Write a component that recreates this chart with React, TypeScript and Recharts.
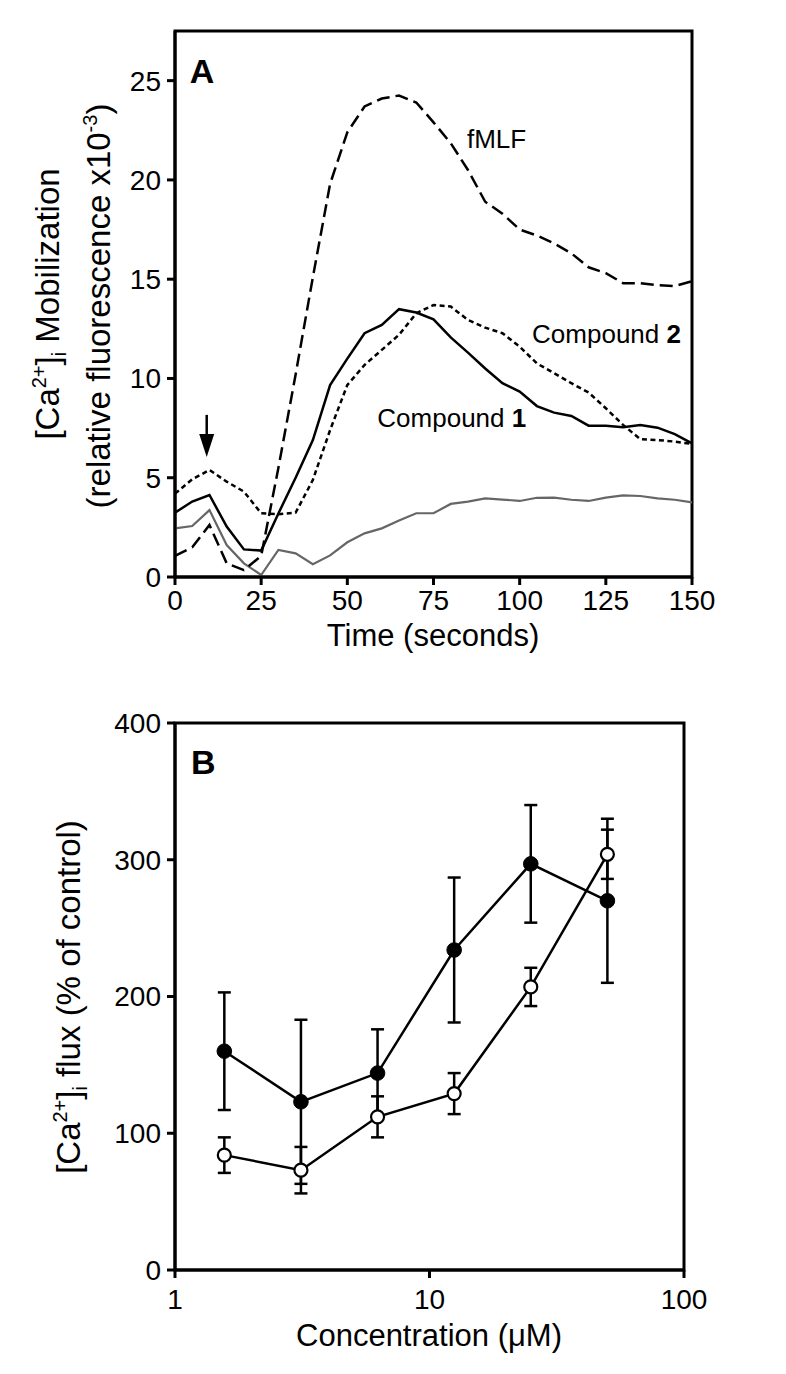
import React from 'react';
import {
  LineChart,
  ComposedChart,
  Line,
  XAxis,
  YAxis,
  ReferenceArea,
  ReferenceDot,
  ErrorBar
} from 'recharts';

const FONT = '"Liberation Sans", Arial, Helvetica, sans-serif';

// Panel A: calcium traces, sampled every 5 s
const time = [0, 5, 10, 15, 20, 25, 30, 35, 40, 45, 50, 55, 60, 65, 70, 75, 80, 85, 90, 95, 100, 105, 110, 115, 120, 125, 130, 135, 140, 145, 150];
const fmlf = [1.06, 1.5, 2.62, 0.69, 0.35, 1.06, 5.5, 10.2, 15.1, 19.8, 22.4, 23.7, 24.1, 24.25, 23.9, 22.9, 21.85, 20.5, 18.9, 18.3, 17.5, 17.2, 16.8, 16.3, 15.6, 15.3, 14.8, 14.8, 14.7, 14.65, 14.9];
const compound1 = [3.24, 3.8, 4.13, 2.54, 1.39, 1.33, 3.2, 5.0, 6.9, 9.67, 11.0, 12.28, 12.7, 13.49, 13.32, 12.98, 12.07, 11.3, 10.5, 9.76, 9.34, 8.61, 8.28, 8.11, 7.62, 7.62, 7.54, 7.66, 7.52, 7.2, 6.73];
const compound2 = [4.2, 4.92, 5.39, 4.8, 4.3, 3.21, 3.16, 3.24, 4.89, 7.4, 9.67, 10.68, 11.44, 12.2, 13.28, 13.7, 13.62, 12.95, 12.56, 12.28, 11.6, 10.76, 10.26, 9.76, 9.29, 8.5, 7.66, 6.94, 6.9, 6.82, 6.7];
const control = [2.45, 2.57, 3.37, 1.61, 0.69, 0.1, 1.36, 1.19, 0.64, 1.09, 1.75, 2.2, 2.45, 2.84, 3.21, 3.21, 3.68, 3.8, 3.96, 3.9, 3.83, 3.99, 4.0, 3.89, 3.83, 4.0, 4.11, 4.08, 3.96, 3.89, 3.76];
const xTicksA = [0, 25, 50, 75, 100, 125, 150];
const yTicksA = [0, 5, 10, 15, 20, 25];

// Panel B: dose response
const conc = [1.5625, 3.125, 6.25, 12.5, 25, 50];
const openMean = [84, 73, 112, 129, 207, 304];
const openErr = [13, 17, 15, 15, 14, 18];
const filledMean = [160, 123, 144, 234, 297, 270];
const filledErr = [43, 60, 32, 53, 43, 60];
const xTicksB = [1, 10, 100];
const yTicksB = [0, 100, 200, 300, 400];

const dataA = time.map((t, i) => ({
  t,
  fmlf: fmlf[i],
  c1: compound1[i],
  c2: compound2[i],
  ctrl: control[i]
}));
const openData = conc.map((c, i) => ({ c, y: openMean[i], err: openErr[i] }));
const filledData = conc.map((c, i) => ({ c, y: filledMean[i], err: filledErr[i] }));

const axisLine = { stroke: '#000', strokeWidth: 3 };
const tickLine = { stroke: '#000', strokeWidth: 3 };
const tickStyle = { fontSize: 28, fill: '#000', fontFamily: FONT };

const TimeTitle = () => (
  <text x={433} y={646} textAnchor="middle" fontSize={31} fontFamily={FONT} fill="#000">
    Time (seconds)
  </text>
);

const YTitleA = () => (
  <g fontFamily={FONT} fill="#000" fontSize={33}>
    <text x={59} y={304} transform="rotate(-90, 59, 304)" textAnchor="middle">
      [Ca<tspan dy={-13} fontSize={20}>2+</tspan>
      <tspan dy={13}>]</tspan>
      <tspan dy={7} fontSize={20}>i</tspan>
      <tspan dy={-7}> Mobilization</tspan>
    </text>
    <text x={110} y={306} transform="rotate(-90, 110, 306)" textAnchor="middle">
      (relative fluorescence x10<tspan dy={-13} fontSize={20}>-3</tspan>
      <tspan dy={13}>)</tspan>
    </text>
  </g>
);

const ConcTitle = () => (
  <text x={429} y={656} textAnchor="middle" fontSize={31} fontFamily={FONT} fill="#000">
    Concentration (μM)
  </text>
);

const YTitleB = () => (
  <text x={80} y={307} transform="rotate(-90, 80, 307)" textAnchor="middle" fontSize={33} fontFamily={FONT} fill="#000">
    [Ca<tspan dy={-13} fontSize={20}>2+</tspan>
    <tspan dy={13}>]</tspan>
    <tspan dy={7} fontSize={20}>i</tspan>
    <tspan dy={-7}> flux (% of control)</tspan>
  </text>
);

const textShape = (content: React.ReactNode, size: number, bold = false) => (p: any) => (
  <text x={p.cx} y={p.cy} fontSize={size} fontFamily={FONT} fontWeight={bold ? 'bold' : 'normal'} fill="#000">
    {content}
  </text>
);

const arrowShape = (p: any) => (
  <g>
    <line x1={p.cx} y1={p.cy - 42} x2={p.cx} y2={p.cy - 18} stroke="#000" strokeWidth={2.5} />
    <polygon points={`${p.cx - 7.5},${p.cy - 23} ${p.cx + 7.5},${p.cy - 23} ${p.cx},${p.cy}`} fill="#000" />
  </g>
);

export default function App() {
  return (
    <div style={{ position: 'absolute', left: 0, top: 0, width: 786, height: 1374, background: '#fff' }}>
      <LineChart width={786} height={690} data={dataA} margin={{ top: 31, right: 94, bottom: 0, left: 0 }}>
        <XAxis
          dataKey="t"
          type="number"
          domain={[0, 150]}
          ticks={xTicksA}
          height={113}
          tick={tickStyle}
          tickSize={8}
          tickMargin={5}
          axisLine={axisLine}
          tickLine={tickLine}
          label={<TimeTitle />}
        />
        <YAxis
          type="number"
          domain={[0, 27.5]}
          ticks={yTicksA}
          width={175}
          tick={tickStyle}
          tickSize={8}
          tickMargin={6}
          axisLine={axisLine}
          tickLine={tickLine}
          label={<YTitleA />}
        />
        <ReferenceArea x1={0} x2={150} y1={0} y2={27.5} fill="none" fillOpacity={0} stroke="#000" strokeWidth={3} />
        <Line dataKey="ctrl" type="linear" stroke="#666" strokeWidth={2.2} dot={false} activeDot={false} isAnimationActive={false} />
        <Line dataKey="fmlf" type="linear" stroke="#000" strokeWidth={2.5} strokeDasharray="13 6" dot={false} activeDot={false} isAnimationActive={false} />
        <Line dataKey="c2" type="linear" stroke="#000" strokeWidth={2.5} strokeDasharray="5 3.5" dot={false} activeDot={false} isAnimationActive={false} />
        <Line dataKey="c1" type="linear" stroke="#000" strokeWidth={2.5} dot={false} activeDot={false} isAnimationActive={false} />
        <ReferenceDot x={4.3} y={24.9} shape={textShape('A', 34, true)} />
        <ReferenceDot x={84.7} y={21.6} shape={textShape('fMLF', 26)} />
        <ReferenceDot x={103.6} y={11.8} shape={textShape(<>Compound <tspan fontWeight="bold">2</tspan></>, 26)} />
        <ReferenceDot x={58.7} y={7.57} shape={textShape(<>Compound <tspan fontWeight="bold">1</tspan></>, 26)} />
        <ReferenceDot x={9.2} y={6.05} shape={arrowShape} />
      </LineChart>

      <ComposedChart width={786} height={684} margin={{ top: 33, right: 102, bottom: 0, left: 0 }}>
        <XAxis
          dataKey="c"
          type="number"
          scale="log"
          domain={[1, 100]}
          ticks={xTicksB}
          allowDataOverflow
          height={104}
          tick={tickStyle}
          tickSize={8}
          tickMargin={11}
          axisLine={axisLine}
          tickLine={tickLine}
          label={<ConcTitle />}
        />
        <YAxis
          type="number"
          domain={[0, 400]}
          ticks={yTicksB}
          width={175}
          tick={tickStyle}
          tickSize={8}
          tickMargin={6}
          axisLine={axisLine}
          tickLine={tickLine}
          label={<YTitleB />}
        />
        <ReferenceArea x1={1} x2={100} y1={0} y2={400} fill="none" fillOpacity={0} stroke="#000" strokeWidth={3} />
        <Line
          data={openData}
          dataKey="y"
          type="linear"
          stroke="#000"
          strokeWidth={2.5}
          dot={{ r: 6.5, fill: '#fff', stroke: '#000', strokeWidth: 2.2 }}
          activeDot={false}
          isAnimationActive={false}
        >
          <ErrorBar dataKey="err" direction="y" width={6.5} stroke="#000" strokeWidth={2.5} />
        </Line>
        <Line
          data={filledData}
          dataKey="y"
          type="linear"
          stroke="#000"
          strokeWidth={2.5}
          dot={{ r: 7.3, fill: '#000', stroke: '#000', strokeWidth: 1 }}
          activeDot={false}
          isAnimationActive={false}
        >
          <ErrorBar dataKey="err" direction="y" width={6.5} stroke="#000" strokeWidth={2.5} />
        </Line>
        <ReferenceDot x={1.155} y={363} shape={textShape('B', 34, true)} />
      </ComposedChart>
    </div>
  );
}
